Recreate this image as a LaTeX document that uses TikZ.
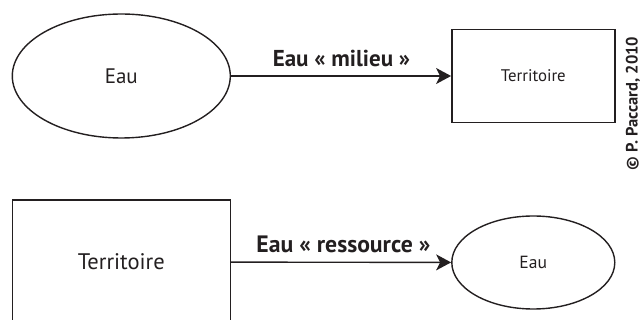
\documentclass[tikz,border=0pt]{standalone}
\usepackage{fontspec}
\setmainfont{PT Sans}
\usetikzlibrary{arrows.meta,shapes.geometric}
\definecolor{ink}{HTML}{231F20}
\tikzset{
  lw/.style={line width=1.4pt, draw=ink},
  bigell/.style={lw, ellipse, inner sep=0pt, minimum width=218pt, minimum height=124pt, text=ink},
  smallell/.style={lw, ellipse, inner sep=0pt, minimum width=163pt, minimum height=93pt, text=ink},
  bigbox/.style={lw, rectangle, inner sep=0pt, minimum width=218pt, minimum height=124pt, text=ink},
  smallbox/.style={lw, rectangle, inner sep=0pt, minimum width=163pt, minimum height=93pt, text=ink},
  conn/.style={lw, -{Stealth[length=15pt,width=16pt,inset=4pt]}},
  lab/.style={text=ink, anchor=base},
}
\begin{document}
\begin{tikzpicture}[x=1pt,y=-1pt]
\useasboundingbox (0,0) rectangle (643,320);
\node[bigell, font=\fontsize{21}{23}\selectfont] (eau1) at (121.3,76) {Eau};
\node[smallbox, font=\fontsize{16.8}{18}\selectfont] (ter1) at (533.3,76) {Territoire};
\draw[conn] (eau1) -- (ter1);
\node[lab, font=\bfseries\fontsize{23}{25}\selectfont] (l1) at (341.5,67) {Eau « milieu »};
\node[bigbox, font=\fontsize{22.5}{24}\selectfont] (ter2) at (121.3,262) {Territoire};
\node[smallell, font=\fontsize{17.6}{19}\selectfont] (eau2) at (533.3,262.5) {Eau};
\draw[conn] (ter2) -- (eau2);
\node[lab, font=\bfseries\fontsize{23.7}{25}\selectfont] (l2) at (343.5,253) {Eau « ressource »};
\node[text=ink, font=\bfseries\fontsize{16.5}{18}\selectfont, rotate=90, inner sep=0pt, anchor=base] (copy) at (637.5,103.5) {© P. Paccard, 2010};
\end{tikzpicture}
\end{document}
